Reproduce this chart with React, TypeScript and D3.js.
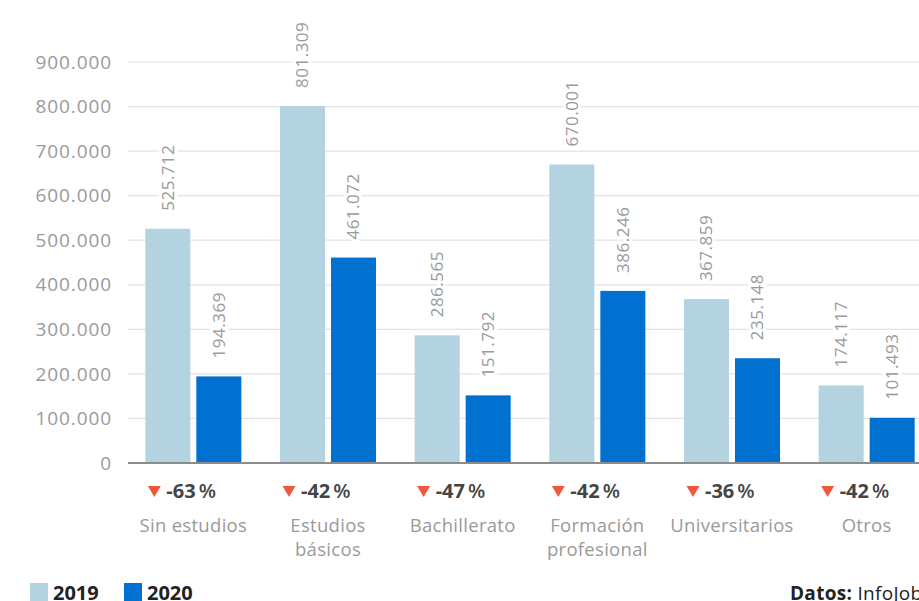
import React from "react";
import * as d3 from "d3";

const categories = [["Sin estudios"], ["Estudios", "básicos"], ["Bachillerato"], ["Formación", "profesional"], ["Universitarios"], ["Otros"]];
const values2019 = [525712, 801309, 286565, 670001, 367859, 174117];
const values2020 = [194369, 461072, 151792, 386246, 235148, 101493];
const changes = ["-63", "-42", "-47", "-42", "-36", "-42"];
const yTicks = [0, 100000, 200000, 300000, 400000, 500000, 600000, 700000, 800000, 900000];
const seriesNames = ["2019", "2020"];

const W = 919, H = 601;
const C19 = "#b3d3e0", C20 = "#0071d1";
const FONT = "'Open Sans', Lato, sans-serif";

const fmt = (v: number) => d3.format(",")(v).replace(/,/g, ".");

export default function App() {
  const x = d3.scaleBand<number>().domain(d3.range(6)).range([126, 934]).paddingInner(0).paddingOuter(0);
  const y = d3.scaleLinear().domain([0, 900000]).range([463, 62]);
  const bw = 45, gap = 6;
  return (
    <svg width={W} height={H} style={{ position: "absolute", left: 0, top: 0, fontFamily: FONT }}>
      <rect width={W} height={H} fill="#fff" />
      {yTicks.map((t) => (
        <g key={t}>
          {t > 0 && <line x1={128} x2={W} y1={y(t)} y2={y(t)} stroke="#e3e3e3" strokeWidth={1.2} />}
          <text x={112} y={y(t)} dy="0.35em" textAnchor="end" fontSize={19} fill="#9a9a9a" letterSpacing={0.9}>
            {fmt(t)}
          </text>
        </g>
      ))}
      {categories.map((c, i) => {
        const cx = (x(i) as number) + x.bandwidth() / 2;
        const bars = [
          { v: values2019[i], x0: cx - gap / 2 - bw, col: C19 },
          { v: values2020[i], x0: cx + gap / 2, col: C20 },
        ];
        return (
          <g key={i}>
            {bars.map((b, j) => (
              <g key={j}>
                <rect x={b.x0} y={y(b.v)} width={bw} height={y(0) - y(b.v)} fill={b.col} />
                <text
                  transform={`translate(${b.x0 + bw / 2},${y(b.v) - 18}) rotate(-90)`}
                  dy="0.35em"
                  fontSize={17}
                  fill="#9a9a9a"
                  stroke="#fff"
                  strokeWidth={6}
                  paintOrder="stroke"
                  letterSpacing={0.5}
                >
                  {fmt(b.v)}
                </text>
              </g>
            ))}
            <g transform={`translate(${cx - 8},491)`}>
              <path d="M-37.5,-5 L-24.5,-5 L-31,6 Z" fill="#f0583a" />
              <text x={-19} dy="0.35em" fontSize={20} fontWeight={700} fill="#444" letterSpacing={0}>
                {changes[i]}
                <tspan fontWeight={600} dx={3}>%</tspan>
              </text>
            </g>
            {c.map((line, k) => (
              <text key={k} x={cx} y={526 + k * 24} dy="0.35em" textAnchor="middle" fontSize={18.5} fill="#9a9a9a" letterSpacing={0.3}>
                {line}
              </text>
            ))}
          </g>
        );
      })}
      <line x1={128} x2={W} y1={y(0)} y2={y(0)} stroke="#8c8c8c" strokeWidth={2} />
      {seriesNames.map((s, i) => (
        <g key={s} transform={`translate(${30 + i * 94},583)`}>
          <rect width={18} height={18} fill={i === 0 ? C19 : C20} />
          <text x={23} y={10} dy="0.35em" fontSize={20} fontWeight={700} fill="#222">{s}</text>
        </g>
      ))}
      <text x={790} y={593} dy="0.35em" fontSize={19} fill="#222" letterSpacing={0.3}>
        <tspan fontWeight={700}>Datos:</tspan> InfoJobs
      </text>
    </svg>
  );
}
